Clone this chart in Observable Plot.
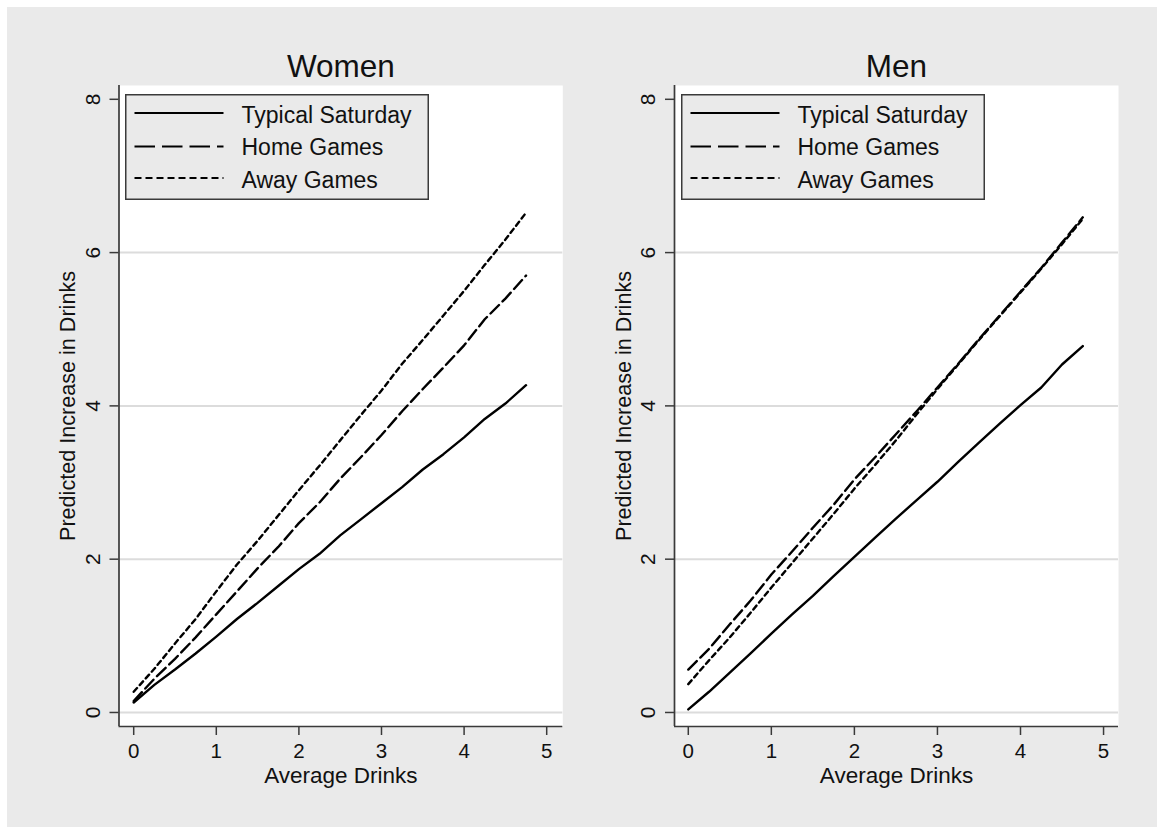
<!DOCTYPE html>
<html>
<head>
<meta charset="utf-8">
<script src="https://cdn.jsdelivr.net/npm/d3@7"></script>
<script src="https://cdn.jsdelivr.net/npm/@observablehq/plot@0.6"></script>
<style>
  body { margin: 0; background: #ffffff; font-family: "Liberation Sans", Arial, sans-serif; }
  #wrap { position: relative; width: 1157px; height: 827px; overflow: hidden; }
  #bg { position: absolute; left: 7px; top: 7px; width: 1150px; height: 820px; background: #eaeaea; }
  .panel { position: absolute; top: 0; }
  .panel svg { overflow: visible; }
  .legend { position: absolute; top: 94px; }
</style>
</head>
<body>
<div id="wrap"><div id="bg"></div></div>
<script>
// ---- data ----
const drinks = [0, 0.25, 0.5, 0.75, 1.0, 1.25, 1.5, 1.75, 2.0, 2.25, 2.5, 2.75, 3.0, 3.25, 3.5, 3.75, 4.0, 4.25, 4.5, 4.75];

const womenTypical = [0.13, 0.36, 0.56, 0.77, 0.99, 1.22, 1.43, 1.65, 1.87, 2.07, 2.31, 2.52, 2.73, 2.94, 3.17, 3.37, 3.59, 3.83, 4.03, 4.27];
const womenHome    = [0.15, 0.44, 0.70, 0.98, 1.28, 1.58, 1.88, 2.16, 2.47, 2.74, 3.05, 3.33, 3.62, 3.93, 4.22, 4.50, 4.79, 5.13, 5.40, 5.70];
const womenAway    = [0.27, 0.57, 0.90, 1.22, 1.58, 1.93, 2.24, 2.57, 2.90, 3.22, 3.55, 3.88, 4.20, 4.55, 4.86, 5.18, 5.50, 5.84, 6.17, 6.52];

const menTypical   = [0.04, 0.27, 0.52, 0.77, 1.03, 1.28, 1.52, 1.78, 2.03, 2.28, 2.53, 2.77, 3.01, 3.27, 3.52, 3.77, 4.01, 4.24, 4.54, 4.78];
const menHome      = [0.56, 0.83, 1.15, 1.46, 1.80, 2.10, 2.41, 2.71, 3.04, 3.33, 3.63, 3.93, 4.24, 4.55, 4.87, 5.18, 5.49, 5.80, 6.13, 6.46];
const menAway      = [0.37, 0.68, 0.98, 1.30, 1.63, 1.95, 2.27, 2.59, 2.92, 3.23, 3.55, 3.89, 4.22, 4.54, 4.86, 5.17, 5.48, 5.79, 6.11, 6.44];

const seriesNames = ["Typical Saturday", "Home Games", "Away Games"];
const panelTitles = ["Women", "Men"];
const xTicks = [0, 1, 2, 3, 4, 5];
const yTicks = [0, 2, 4, 6, 8];
const gridTicks = [0, 2, 4, 6];
const xLabel = "Average Drinks";
const yLabel = "Predicted Increase in Drinks";

// ---- styling ----
const FONT = "'Liberation Sans', Arial, sans-serif";
const AXIS = "#3a3a3a";
const plotDash = [null, "12,5", "5,4"];
const legendDash = [null, "20.5,7", "7,4"];
const yDomain = [-0.183, 8.18];

const panels = [
  { title: panelTitles[0], series: [womenTypical, womenHome, womenAway], left: 0, width: 578, ml: 118.5, mr: 578 - 562.3, xd: [-0.178, 5.195] },
  { title: panelTitles[1], series: [menTypical, menHome, menAway], left: 578, width: 579, ml: 674 - 578, mr: 579 - (1118 - 578), xd: [-0.166, 5.18] }
];

const wrap = document.getElementById("wrap");

for (const p of panels) {
  const rows = [];
  p.series.forEach((vals, s) => vals.forEach((v, i) => rows.push({ x: drinks[i], y: v, series: seriesNames[s] })));

  const lineMarks = seriesNames.map((name, s) =>
    Plot.line(rows.filter(r => r.series === name), {
      x: "x", y: "y", stroke: "#000", strokeWidth: 2.4,
      strokeDasharray: plotDash[s] || undefined, strokeLinejoin: "round"
    })
  );

  const chart = Plot.plot({
    width: p.width,
    height: 827,
    marginLeft: p.ml,
    marginRight: p.mr,
    marginTop: 85,
    marginBottom: 101,
    x: { domain: p.xd },
    y: { domain: yDomain },
    style: { background: "transparent", fontFamily: FONT, color: "#000", overflow: "visible" },
    marks: [
      Plot.frame({ fill: "white", stroke: null }),
      Plot.ruleY(gridTicks, { stroke: "#dcdcdc", strokeWidth: 2 }),
      ...lineMarks,
      Plot.ruleX([p.xd[0]], { stroke: AXIS, strokeWidth: 1.7 }),
      Plot.ruleY([yDomain[0]], { stroke: AXIS, strokeWidth: 1.7 }),
      Plot.axisY(yTicks, { tickSize: 9, tickFormat: () => "", label: null, stroke: AXIS, strokeWidth: 1.5 }),
      Plot.axisX(xTicks, { tickSize: 9, tickFormat: () => "", label: null, stroke: AXIS, strokeWidth: 1.5 }),
      Plot.text(yTicks, { y: d => d, text: d => String(d), frameAnchor: "left", rotate: -90, dx: -19.5, lineAnchor: "bottom", textAnchor: "middle", fontSize: 21, fill: "#111" }),
      Plot.text(xTicks, { x: d => d, text: d => String(d), frameAnchor: "bottom", dy: 31.5, lineAnchor: "bottom", textAnchor: "middle", fontSize: 20.5, fill: "#111" }),
      Plot.text([xLabel], { text: d => d, frameAnchor: "bottom", dy: 56.5, lineAnchor: "bottom", textAnchor: "middle", fontSize: 22.5, fill: "#111" }),
      Plot.text([yLabel], { text: d => d, frameAnchor: "left", rotate: -90, dx: -44, lineAnchor: "bottom", textAnchor: "middle", fontSize: 21.6, fill: "#111" }),
      Plot.text([p.title], { text: d => d, frameAnchor: "top", dy: -8.3, lineAnchor: "bottom", textAnchor: "middle", fontSize: 31.5, fill: "#111" })
    ]
  });

  const div = document.createElement("div");
  div.className = "panel";
  div.style.left = p.left + "px";
  div.appendChild(chart);
  wrap.appendChild(div);

  // legend (key) inside the plot region, top-left
  const ns = "http://www.w3.org/2000/svg";
  const lg = document.createElementNS(ns, "svg");
  const lw = 304, lh = 106;
  lg.setAttribute("width", lw);
  lg.setAttribute("height", lh);
  lg.setAttribute("class", "legend");
  lg.style.left = (p.left + p.ml + 6.5) + "px";
  const box = document.createElementNS(ns, "rect");
  box.setAttribute("x", 0.75); box.setAttribute("y", 0.75);
  box.setAttribute("width", lw - 1.5); box.setAttribute("height", lh - 1.5);
  box.setAttribute("fill", "#eaeaea"); box.setAttribute("stroke", AXIS); box.setAttribute("stroke-width", 1.5);
  lg.appendChild(box);
  const lineYs = [19, 52.5, 84];
  const textYs = [29.3, 61, 94.3];
  seriesNames.forEach((name, s) => {
    const ln = document.createElementNS(ns, "line");
    ln.setAttribute("x1", 9.5); ln.setAttribute("x2", 98.5);
    ln.setAttribute("y1", lineYs[s]); ln.setAttribute("y2", lineYs[s]);
    ln.setAttribute("stroke", "#000"); ln.setAttribute("stroke-width", 2.1);
    if (legendDash[s]) ln.setAttribute("stroke-dasharray", legendDash[s]);
    lg.appendChild(ln);
    const tx = document.createElementNS(ns, "text");
    tx.setAttribute("x", 116.5); tx.setAttribute("y", textYs[s]);
    tx.setAttribute("font-family", FONT); tx.setAttribute("font-size", 23);
    tx.setAttribute("fill", "#111");
    tx.textContent = name;
    lg.appendChild(tx);
  });
  wrap.appendChild(lg);
}
</script>
</body>
</html>
